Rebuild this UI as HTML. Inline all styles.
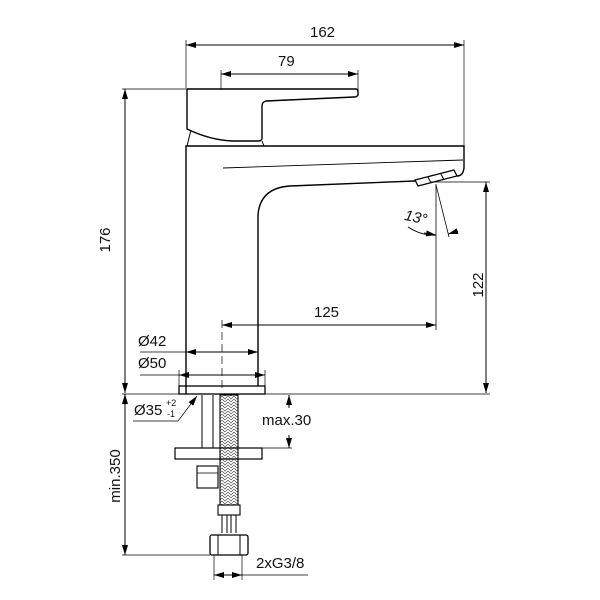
<!DOCTYPE html>
<html><head><style>body{margin:0;background:#fff}svg{display:block}text{font-family:"Liberation Sans",sans-serif;font-size:15px;fill:#111}</style></head><body>
<svg width="600" height="600" viewBox="0 0 600 600" xmlns="http://www.w3.org/2000/svg">
<defs>
<marker id="a" viewBox="0 0 10 6" refX="10" refY="3" markerWidth="10" markerHeight="6" orient="auto-start-reverse" markerUnits="userSpaceOnUse"><path d="M0,0L10,3L0,6z" fill="#000"/></marker>
<pattern id="br" width="6" height="6" patternUnits="userSpaceOnUse"><path d="M0,0L3,3L6,0M0,3L3,6L6,3" stroke="#555" stroke-width="0.7" fill="none"/></pattern>
</defs>
<g stroke="#000" fill="none" stroke-width="1">
<!-- dims top -->
<line x1="186" y1="45" x2="464" y2="45" marker-start="url(#a)" marker-end="url(#a)"/>
<line x1="186" y1="40" x2="186" y2="88" stroke-width="0.7"/>
<line x1="464" y1="40" x2="464" y2="146" stroke-width="0.7"/>
<line x1="221" y1="74" x2="358" y2="74" marker-start="url(#a)" marker-end="url(#a)"/>
<line x1="221" y1="70" x2="221" y2="90" stroke-width="0.7"/>
<line x1="358" y1="70" x2="358" y2="90" stroke-width="0.7"/>
<!-- 176 -->
<line x1="122" y1="89" x2="186" y2="89" stroke-width="0.7"/>
<line x1="125" y1="89" x2="125" y2="393" marker-start="url(#a)" marker-end="url(#a)"/>
<!-- handle -->
<path d="M187,89 L356,89 Q358,89 358,92 L358,95 Q357,97 354,97 L266,101 Q262,102 262,106 L262,138 Q262,141 258,141 L232,141 Q210,140 187,129 Z" stroke-width="1.4"/>
<path d="M191,130 L187,146 M262,141 L264,146" stroke-width="1"/>
<!-- body -->
<path d="M186,394 L186,146 L464,146 L464,168 Q463,176 457,176" stroke-width="1.4"/>
<line x1="223" y1="168" x2="463" y2="160" stroke-width="0.9"/>
<path d="M258,386 L258,215 Q260,188 290,186 L415,181" stroke-width="1.4"/>
<!-- aerator -->
<path d="M415,180 L454,170 L457,176 L418,186 Z" stroke-width="1.2"/>
<line x1="428" y1="177" x2="431" y2="183"/>
<line x1="441" y1="174" x2="444" y2="180"/>
<!-- 122 -->
<line x1="430" y1="182" x2="490" y2="182" stroke-width="0.7"/>
<line x1="486" y1="182" x2="486" y2="393" marker-start="url(#a)" marker-end="url(#a)"/>
<line x1="436" y1="184" x2="436" y2="330" stroke-width="0.8"/>
<line x1="436" y1="185" x2="449" y2="237" stroke-width="0.8"/>
<path d="M408,227 Q422,236 436,235" />
<line x1="424" y1="233" x2="436" y2="235" marker-end="url(#a)"/>
<line x1="458" y1="231" x2="448" y2="234" marker-end="url(#a)"/>
<!-- 125 -->
<line x1="222" y1="325" x2="436" y2="325" marker-start="url(#a)" marker-end="url(#a)"/>
<line x1="222" y1="320" x2="222" y2="392" stroke-dasharray="8,4" stroke-width="0.7"/>
<!-- diameters -->
<line x1="140" y1="352" x2="258" y2="352" stroke-width="0.7"/>
<line x1="186" y1="352" x2="258" y2="352" marker-start="url(#a)" marker-end="url(#a)"/>
<line x1="140" y1="375" x2="265" y2="375" stroke-width="0.7"/>
<line x1="179" y1="375" x2="265" y2="375" marker-start="url(#a)" marker-end="url(#a)"/>
<line x1="179" y1="370" x2="179" y2="386" stroke-width="0.7"/>
<line x1="265" y1="370" x2="265" y2="386" stroke-width="0.7"/>
<!-- base -->
<rect x="179" y="386" width="86" height="8" stroke-width="1.3"/>
<line x1="122" y1="394" x2="490" y2="394" stroke-width="0.7"/>
<path d="M133,421 L178,421 L197,396" stroke-width="0.7" marker-end="url(#a)"/>
<!-- below -->
<line x1="202" y1="395" x2="202" y2="448"/>
<line x1="213" y1="395" x2="213" y2="448"/>
<rect x="220" y="395" width="18" height="110" fill="url(#br)" stroke-width="1.1"/>
<rect x="175" y="448" width="87" height="11" stroke-width="1.2"/>
<rect x="197" y="466" width="21" height="22" stroke-width="1.1"/>
<line x1="197" y1="473" x2="218" y2="473" stroke-width="0.7"/>
<rect x="218" y="505" width="22" height="10" stroke-width="1.1"/>
<path d="M222,515 V533 M227,515 V533 M231,515 V533 M236,515 V533" stroke-width="1"/>
<rect x="210" y="535" width="38" height="20" rx="2" stroke-width="1.3"/>
<line x1="218" y1="535" x2="218" y2="555"/>
<line x1="240" y1="535" x2="240" y2="555"/>
<!-- max30 -->
<line x1="262" y1="448" x2="292" y2="448" stroke-width="0.7"/>
<line x1="289" y1="408" x2="289" y2="395" marker-end="url(#a)"/>
<line x1="289" y1="435" x2="289" y2="448" marker-end="url(#a)"/>
<!-- min350 -->
<line x1="125" y1="394" x2="125" y2="555" marker-start="url(#a)" marker-end="url(#a)"/>
<line x1="122" y1="555" x2="210" y2="555" stroke-width="0.7"/>
<!-- 2xG -->
<line x1="214" y1="555" x2="214" y2="580" stroke-width="0.7"/>
<line x1="242" y1="555" x2="242" y2="580" stroke-width="0.7"/>
<line x1="214" y1="575" x2="228" y2="575" marker-start="url(#a)"/>
<line x1="228" y1="575" x2="242" y2="575" marker-end="url(#a)"/>
<line x1="242" y1="575" x2="308" y2="575" stroke-width="0.7"/>
</g>
<text x="310" y="37">162</text>
<text x="278" y="66">79</text>
<text x="110" y="240" transform="rotate(-90 110 240)" text-anchor="middle">176</text>
<text x="483" y="285" transform="rotate(-90 483 285)" text-anchor="middle">122</text>
<text x="405" y="222" font-style="italic" transform="rotate(12 415 215)">13°</text>
<text x="314" y="317">125</text>
<text x="138" y="346">Ø42</text>
<text x="138" y="368">Ø50</text>
<text x="134" y="415">Ø35</text>
<text x="166" y="406" style="font-size:9px">+2</text>
<text x="167" y="417" style="font-size:9px">-1</text>
<text x="262" y="425">max.30</text>
<text x="120" y="476" transform="rotate(-90 120 476)" text-anchor="middle">min.350</text>
<text x="256" y="568">2xG3/8</text>
</svg>
</body></html>
